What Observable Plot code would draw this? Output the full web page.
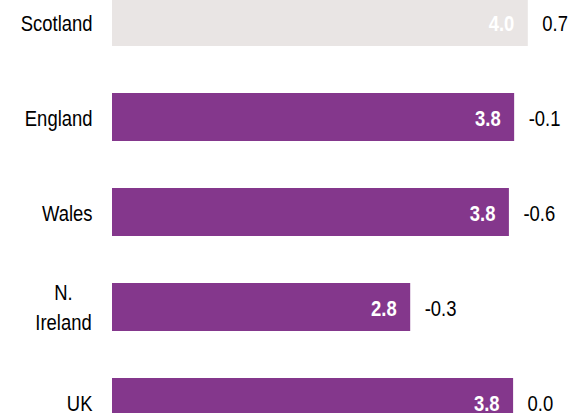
<!DOCTYPE html>
<html>
<head>
<meta charset="utf-8">
<script src="https://cdn.jsdelivr.net/npm/d3@7"></script>
<script src="https://cdn.jsdelivr.net/npm/@observablehq/plot@0.6"></script>
<style>
  html, body { margin: 0; padding: 0; background: #fff; overflow: hidden; }
  #chart { width: 569px; height: 413px; overflow: hidden; }
</style>
</head>
<body>
<div id="chart"></div>
<script>
const regions = ["Scotland", "England", "Wales", "N.\nIreland", "UK"];
const values = [3.96, 3.83, 3.78, 2.84, 3.82];
const changes = [0.7, -0.1, -0.6, -0.3, 0.0];
const highlight = "Scotland";

const purple = "#84378C";
const grey = "#E9E5E4";
const font = "'Liberation Sans', Arial, sans-serif";
const condense = 0.82; // emulate a narrow face (Arial Narrow = condensed Arial)

const data = regions.map((r, i) => ({region: r, value: values[i], change: changes[i]}));

const chart = Plot.plot({
  width: 569,
  height: 413,
  margin: 0,
  style: {fontFamily: font, fontSize: "22.5px", background: "#fff", color: "#000"},
  x: {domain: [0, 4], range: [112, 532], axis: null},
  y: {domain: regions, range: [-26.5, 449], paddingInner: 0.5, paddingOuter: 0.25, axis: null},
  color: {type: "identity"},
  marks: [
    Plot.barX(data, {x: "value", y: "region", fill: d => d.region === highlight ? grey : purple}),
    Plot.text(data, {x: "value", y: "region", text: d => d.value.toFixed(1), textAnchor: "end", dx: -14, dy: 1,
      fill: "#fff", fontWeight: "bold", fontSize: 22.5}),
    Plot.text(data, {x: "value", y: "region", text: d => d.change.toFixed(1), textAnchor: "start", dx: 14, dy: 1,
      fill: "#000", fontSize: 22.5}),
    Plot.text(data.filter(d => !d.region.includes("\n")), {x: 0, y: "region", text: "region", textAnchor: "end", dx: -20, dy: 1,
      fill: "#000", fontSize: 22.5}),
    Plot.text(data.filter(d => d.region.includes("\n")), {x: 0, y: "region", text: "region", textAnchor: "middle", dx: -49, dy: -2,
      lineHeight: 1.33, fill: "#000", fontSize: 22.5})
  ]
});

// horizontally condense every text around its own anchor point
chart.querySelectorAll("text").forEach(t => {
  const tr = t.getAttribute("transform") || "";
  t.setAttribute("transform", `${tr} scale(${condense},1)`);
});

document.getElementById("chart").appendChild(chart);
</script>
</body>
</html>
